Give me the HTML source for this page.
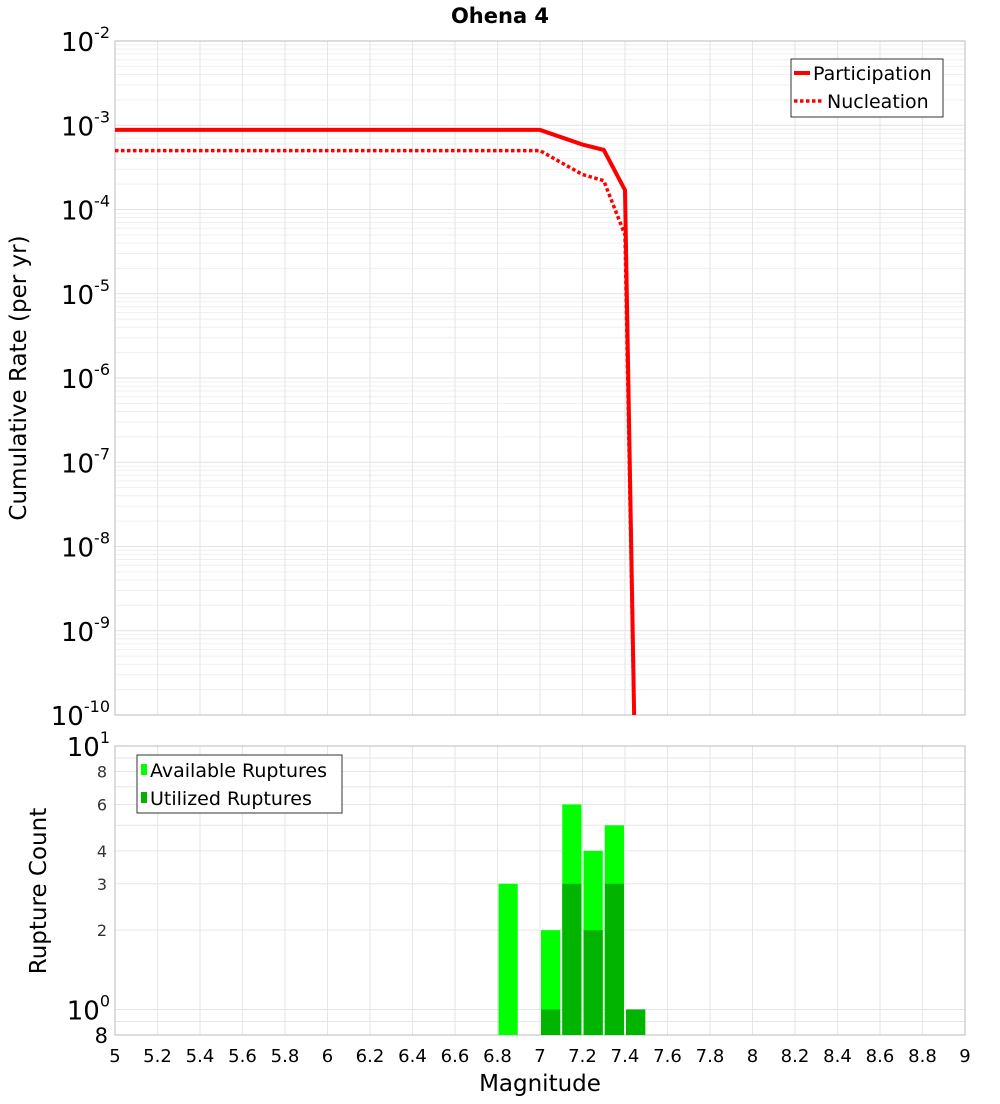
<!DOCTYPE html>
<html><head><meta charset="utf-8"><style>
body{margin:0;background:#fff;font-family:"DejaVu Sans","Liberation Sans",sans-serif}
svg text{font-family:"DejaVu Sans","Liberation Sans",sans-serif}
</style></head><body>
<svg id="c" width="1000" height="1100" xmlns="http://www.w3.org/2000/svg"></svg>
<script>
const mags=[5,7.0,7.2,7.3,7.4,7.45];
const partRate=[8.8e-4,8.8e-4,5.9e-4,5.1e-4,1.7e-4,1e-11];
const nuclRate=[5.0e-4,5.0e-4,2.6e-4,2.2e-4,5.0e-5,1e-11];
const binCenters=[6.85,7.05,7.15,7.25,7.35,7.45];
const available=[3,2,6,4,5,1];
const utilized=[0,1,3,2,3,1];
const xTicks=[5,5.2,5.4,5.6,5.8,6,6.2,6.4,6.6,6.8,7,7.2,7.4,7.6,7.8,8,8.2,8.4,8.6,8.8,9];
const topExps=[-2,-3,-4,-5,-6,-7,-8,-9,-10];
const botTicks=[8,6,4,3,2];

const NS="http://www.w3.org/2000/svg",svg=document.getElementById('c');
function el(t,a,p){const e=document.createElementNS(NS,t);for(const k in a)e.setAttribute(k,a[k]);(p||svg).appendChild(e);return e;}
const X0=115,X1=965;
const x=m=>X0+(m-5)/4*(X1-X0);
const T0=41,T1=715;
const yT=v=>T0+(-2-Math.log10(v))/8*(T1-T0);
const B0=746,B1=1035,bl=Math.log10(0.8);
const yB=v=>B0+(1-Math.log10(v))/(1-bl)*(B1-B0);

let g=el('g',{});
for(let e=-10;e<-2;e++)for(let k=1;k<10;k++){const yy=yT(k*Math.pow(10,e));el('line',{x1:X0,x2:X1,y1:yy,y2:yy,stroke:k==1?'#e2e2e2':'#efefef','stroke-width':1},g);}
xTicks.forEach(t=>{el('line',{x1:x(t),x2:x(t),y1:T0,y2:T1,stroke:'#e6e6e6'},g);el('line',{x1:x(t),x2:x(t),y1:B0,y2:B1,stroke:'#e6e6e6'},g);});
for(let v=1;v<=10;v++){const yy=yB(v);el('line',{x1:X0,x2:X1,y1:yy,y2:yy,stroke:'#e6e6e6'},g);}
el('line',{x1:X0,x2:X1,y1:yB(0.9),y2:yB(0.9),stroke:'#e6e6e6'},g);
let r=el('rect',{x:X0,y:T0,width:X1-X0,height:T1-T0,fill:'none',stroke:'#bbb'});
r=el('rect',{x:X0,y:B0,width:X1-X0,height:B1-B0,fill:'none',stroke:'#bbb'});

const clip=el('clipPath',{id:'cp'});el('rect',{x:X0,y:T0,width:X1-X0,height:T1-T0},clip);
let p=el('polyline',{points:mags.map((m,i)=>x(m)+','+yT(partRate[i])).join(' '),fill:'none',stroke:'#f00','stroke-width':4,'clip-path':'url(#cp)'});

p=el('polyline',{points:mags.map((m,i)=>x(m)+','+yT(nuclRate[i])).join(' '),fill:'none',stroke:'#f00','stroke-width':3.5,'stroke-dasharray':'3.5 2.5','clip-path':'url(#cp)'});


const bw=x(5.1)-x(5)-2;
binCenters.forEach((c,i)=>{
 if(available[i]>0){const b=el('rect',{x:x(c)-bw/2,y:yB(available[i]),width:bw,height:B1-yB(available[i]),fill:'#00ff00'});
 }
 if(utilized[i]>0){const b=el('rect',{x:x(c)-bw/2,y:yB(utilized[i]),width:bw,height:B1-yB(utilized[i]),fill:'#00b400'});
 }
});

xTicks.forEach(t=>{const tx=el('text',{x:x(t),y:1062,'text-anchor':'middle','font-size':18});tx.textContent=String(t);
 });
topExps.forEach(e=>{const tx=el('text',{x:110,y:yT(Math.pow(10,e))+10,'text-anchor':'end','font-size':26});
 tx.innerHTML='10<tspan dy="-13" font-size="16">'+e+'</tspan>';
 });
let tx=el('text',{x:110,y:yB(10)+10,'text-anchor':'end','font-size':26});tx.innerHTML='10<tspan dy="-13" font-size="16">1</tspan>';

tx=el('text',{x:110,y:yB(1)+10,'text-anchor':'end','font-size':26});tx.innerHTML='10<tspan dy="-13" font-size="16">0</tspan>';

botTicks.forEach(v=>{const t=el('text',{x:107,y:yB(v)+6,'text-anchor':'end','font-size':16,fill:'#333'});t.textContent=v;
 });
tx=el('text',{x:108,y:1043,'text-anchor':'end','font-size':21});tx.textContent='8';

</script>
<svg style="position:absolute;left:0;top:0" width="1000" height="1100" xmlns="http://www.w3.org/2000/svg">
<text x="500" y="23" text-anchor="middle" font-size="21" font-weight="bold">Ohena 4</text>
<text transform="translate(26,378) rotate(-90)" text-anchor="middle" font-size="23">Cumulative Rate (per yr)</text>
<text transform="translate(46,891) rotate(-90)" text-anchor="middle" font-size="23">Rupture Count</text>
<text x="540" y="1091" text-anchor="middle" font-size="23">Magnitude</text>
<g>
<rect x="791" y="59" width="152" height="58" fill="#fff" stroke="#333"/>
<line x1="794" y1="73" x2="810" y2="73" stroke="#f00" stroke-width="4"/>
<text x="813" y="80" font-size="19">Participation</text>
<line x1="794" y1="101" x2="822" y2="101" stroke="#f00" stroke-width="3.5" stroke-dasharray="3.5 2.5"/>
<text x="827" y="108" font-size="19">Nucleation</text>
</g>
<g>
<rect x="137" y="755" width="205" height="58" fill="#fff" stroke="#333"/>
<rect x="141" y="764" width="6" height="11" fill="#00ff00"/>
<text x="150" y="777" font-size="19">Available Ruptures</text>
<rect x="141" y="792" width="6" height="11" fill="#00b400"/>
<text x="150" y="805" font-size="19">Utilized Ruptures</text>
</g>
</svg>
</body></html>
